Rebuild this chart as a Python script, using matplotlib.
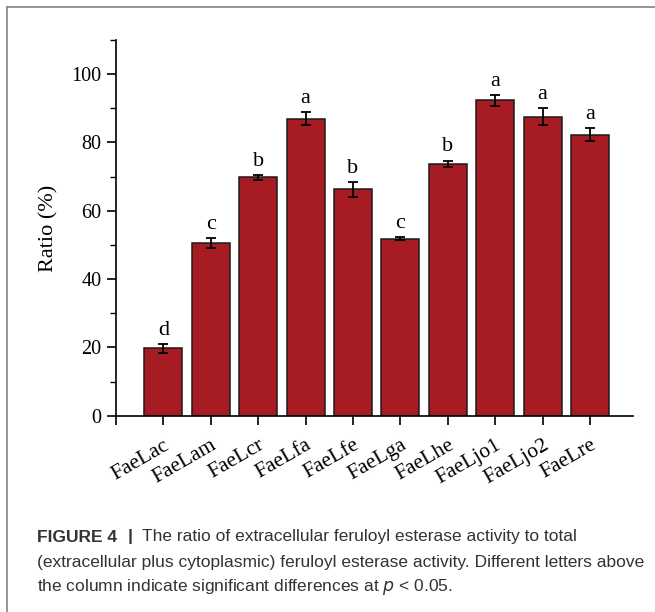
import matplotlib
matplotlib.use("Agg")
import matplotlib.pyplot as plt
from matplotlib.lines import Line2D
from matplotlib.ticker import MultipleLocator

# ratio of extracellular FAE activity, mean and SD per enzyme
enzymes = ["FaeLac", "FaeLam", "FaeLcr", "FaeLfa", "FaeLfe",
           "FaeLga", "FaeLhe", "FaeLjo1", "FaeLjo2", "FaeLre"]
ratio = [19.7, 50.6, 69.8, 86.9, 66.3, 51.8, 73.8, 92.3, 87.6, 82.3]
ratio_sd = [1.2, 1.4, 0.7, 1.9, 2.2, 0.4, 0.9, 1.6, 2.4, 1.8]
groups = ["d", "c", "b", "a", "b", "c", "b", "a", "a", "a"]

BAR_COLOR = "#a61c22"
SERIF = "Liberation Serif"
SANS = "Liberation Sans"

fig = plt.figure(figsize=(6.55, 6.12), dpi=100)
ax = fig.add_axes([0.1771, 0.3207, 0.966 - 0.1771, 0.9346 - 0.3207])

pos = list(range(1, len(enzymes) + 1))
ax.bar(pos, ratio, width=0.8, color=BAR_COLOR, edgecolor="#1a1a1a", linewidth=1.1, zorder=2)
ax.errorbar(pos, ratio, yerr=ratio_sd, fmt="none", ecolor="black",
            elinewidth=1.3, capsize=3.4, capthick=1.3, zorder=3)

for x, v, sd, g in zip(pos, ratio, ratio_sd, groups):
    ax.text(x, v + sd + 1.2, g, ha="center", va="bottom",
            fontsize=16, family=SERIF)

ax.set_xlim(0, 10.9)
ax.set_ylim(0, 110)
ax.set_xticks([0] + pos)
ax.set_xticklabels([""] + enzymes, rotation=30, ha="right",
                   rotation_mode="anchor", family=SERIF, fontsize=15.5)
ax.yaxis.set_major_locator(MultipleLocator(20))
ax.yaxis.set_minor_locator(MultipleLocator(10))
for lab in ax.get_yticklabels():
    lab.set_family(SERIF)
    lab.set_fontsize(14.5)
ax.set_ylabel("Ratio (%)", family=SERIF, fontsize=16, labelpad=9)

ax.spines["top"].set_visible(False)
ax.spines["right"].set_visible(False)
for s in ("left", "bottom"):
    ax.spines[s].set_linewidth(1.2)
ax.tick_params(axis="both", which="major", direction="out", length=6.5, width=1.2, colors="black")
ax.tick_params(axis="y", which="minor", direction="out", length=4.3, width=1.0)
ax.tick_params(axis="y", which="major", pad=4)
ax.tick_params(axis="x", which="major", pad=8)

# panel frame around the figure
W, H = 655.0, 612.0
frame_kw = dict(color="#8c8c8c", linewidth=1.3, transform=fig.transFigure)
fig.add_artist(Line2D([7 / W, 1.0], [1 - 7 / H, 1 - 7 / H], **frame_kw))
fig.add_artist(Line2D([7 / W, 7 / W], [0.0, 1 - 7 / H], **frame_kw))

# caption
cap_color = "#333333"
cap_size = 12.5
x0 = 37 / W
rows_y = [1 - 537 / H, 1 - 562 / H, 1 - 587 / H]
head = fig.text(x0, rows_y[0], "FIGURE 4", family=SANS, fontweight="bold",
                fontsize=cap_size, color=cap_color, va="center")
fig.canvas.draw()
x_bar = head.get_window_extent().x1 + 11
sep = fig.text(x_bar / W, rows_y[0], "|", family=SANS, fontweight="bold",
               fontsize=cap_size, color=cap_color, va="center")
fig.canvas.draw()
x_rest = sep.get_window_extent().x1 + 9
fig.text(x_rest / W, rows_y[0],
         "The ratio of extracellular feruloyl esterase activity to total",
         family=SANS, fontsize=cap_size, color=cap_color, va="center")
fig.text(x0, rows_y[1],
         "(extracellular plus cytoplasmic) feruloyl esterase activity. Different letters above",
         family=SANS, fontsize=cap_size, color=cap_color, va="center")
fig.text(x0, rows_y[2],
         "the column indicate significant differences at $\\it{p}$ < 0.05.",
         family=SANS, fontsize=cap_size, color=cap_color, va="center")

fig.savefig("out.png", dpi=100)
